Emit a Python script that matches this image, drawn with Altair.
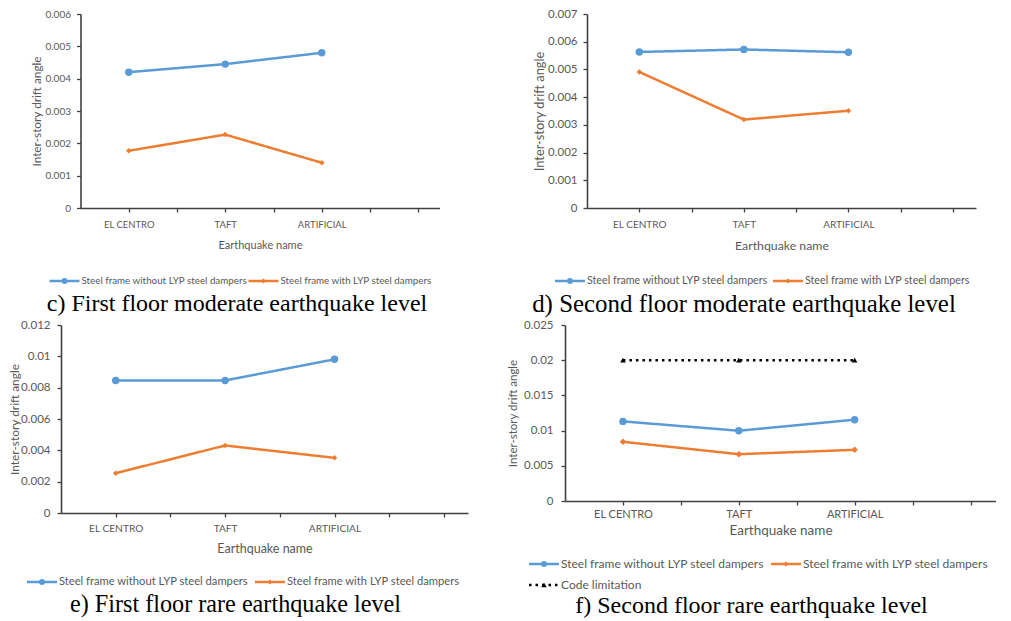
import altair as alt
import pandas as pd

# ---------------- data ----------------
categories = ["EL CENTRO", "TAFT", "ARTIFICIAL"]
S_WITHOUT = "Steel frame without LYP steel dampers"
S_WITH = "Steel frame with LYP steel dampers"
S_CODE = "Code limitation"

c_without = [0.00420, 0.00445, 0.00480]
c_with = [0.00177, 0.00227, 0.00140]
d_without = [0.00563, 0.00572, 0.00562]
d_with = [0.00491, 0.00319, 0.00351]
e_without = [0.00846, 0.00846, 0.00981]
e_with = [0.00254, 0.00431, 0.00352]
f_without = [0.01131, 0.00998, 0.01155]
f_with = [0.00841, 0.00665, 0.00727]
f_code = [0.020, 0.020, 0.020]

captions = [
    "c) First floor moderate earthquake level",
    "d) Second floor moderate earthquake level",
    "e) First floor rare earthquake level",
    "f) Second floor rare earthquake level",
]

# ---------------- styles ----------------
COLORS = {S_WITHOUT: "#5B9BD5", S_WITH: "#ED7D31", S_CODE: "#000000"}
SHAPES = {S_WITHOUT: "circle", S_WITH: "diamond", S_CODE: "triangle-up"}
SIZES = {S_WITHOUT: 55, S_WITH: 30, S_CODE: 40}
LSIZES = {S_WITHOUT: 36, S_WITH: 24, S_CODE: 30}
DASH = {S_WITHOUT: [1, 0], S_WITH: [1, 0], S_CODE: [2.5, 4]}

FONT = "Lato"
GRAY = "#595959"
AXC = "#404040"


def panel(series, ymax, ystep, W, H, caption, p):
    s = p["shift"]  # empty band left of the plot, used to offset this panel in the grid
    rows = []
    for name, vals in series.items():
        for i, v in enumerate(vals):
            rows.append({"series": name, "x": i, "v": v})
    df = pd.DataFrame(rows)
    domain = list(series.keys())
    nt = int(round(ymax / ystep))
    yvals = [round(i * ystep, 4) for i in range(nt + 1)]
    xvals = [i * 0.5 for i in range(7)]
    lab = "''"
    for i in reversed(range(len(categories))):
        lab = "datum.value === %d ? '%s' : (%s)" % (i, categories[i], lab)

    xaxis = alt.Axis(values=xvals, labelExpr=lab, title="Earthquake name", grid=False,
                     labelFont=FONT, labelFontSize=p["cat"], labelColor=GRAY,
                     titleFont=FONT, titleFontSize=p["xt"], titleColor=GRAY, titleFontWeight="normal",
                     labelPadding=p["xlp"], titlePadding=p["xtp"], tickSize=4,
                     domainColor=AXC, tickColor=AXC, domainWidth=1.6, tickWidth=1.3,
                     labelFlush=False, labelOverlap=False)
    yaxis = alt.Axis(values=yvals, format=".3~f", title="Inter-story drift angle", grid=False,
                     labelFont=FONT, labelFontSize=p["tick"], labelColor=GRAY,
                     titleFont=FONT, titleFontSize=p["yt"], titleColor=GRAY, titleFontWeight="normal",
                     labelPadding=p["ylp"], titlePadding=p["ytp"], tickSize=4,
                     domainColor=AXC, tickColor=AXC, domainWidth=1.6, tickWidth=1.3,
                     labelFlush=False, offset=-s)
    base = alt.Chart(df).encode(
        x=alt.X("x:Q", scale=alt.Scale(domain=[-0.5, 3.22], nice=False, zero=False, range=[s, W + s]),
                axis=xaxis),
        y=alt.Y("v:Q", scale=alt.Scale(domain=[0, ymax], nice=False), axis=yaxis),
    )
    line = base.mark_line(strokeWidth=2.5).encode(
        color=alt.Color("series:N", scale=alt.Scale(domain=domain, range=[COLORS[k] for k in domain]),
                        legend=None),
        strokeDash=alt.StrokeDash("series:N", scale=alt.Scale(domain=domain, range=[DASH[k] for k in domain]),
                                  legend=None),
    )
    pts = base.mark_point(filled=True, opacity=1, strokeWidth=0).encode(
        fill=alt.Fill("series:N", scale=alt.Scale(domain=domain, range=[COLORS[k] for k in domain]), legend=None),
        shape=alt.Shape("series:N", scale=alt.Scale(domain=domain, range=[SHAPES[k] for k in domain]), legend=None),
        size=alt.Size("series:N", scale=alt.Scale(domain=domain, range=[SIZES[k] for k in domain]), legend=None),
    )
    layers = [line, pts]

    # legend (line + marker + label), one entry per series
    for k, (lx, ly) in zip(domain, p["leg_pos"]):
        lx = lx + s
        one = alt.Chart(pd.DataFrame({"series": [k]}))
        layers.append(one.mark_rule(color=COLORS[k], strokeWidth=2.5, strokeDash=DASH[k]).encode(
            x=alt.value(lx), x2=alt.value(lx + 30), y=alt.value(ly)))
        layers.append(one.mark_point(filled=True, opacity=1, strokeWidth=0, color=COLORS[k],
                                     shape=SHAPES[k], size=LSIZES[k]).encode(
            x=alt.value(lx + 15), y=alt.value(ly)))
        layers.append(one.mark_text(align="left", baseline="middle", font=FONT, fontSize=p["leg"],
                                    color=GRAY).encode(
            x=alt.value(lx + 32), y=alt.value(ly), text="series:N"))

    return alt.layer(*layers).properties(
        width=W + s, height=H,
        title=alt.TitleParams(caption, orient="bottom", anchor="middle", frame="group",
                              font="Liberation Serif", fontSize=p["cap"], fontWeight="normal",
                              color="black", offset=p["toff"], dx=p["tdx"]),
    )


pc = dict(shift=19.5, cat=9.5, xt=11, tick=10, yt=11.8, leg=9.8, xlp=7, xtp=11, ylp=6, ytp=2,
          leg_pos=[(-31, 267), (168, 267)], toff=6, tdx=-13.25, cap=24)
pd_ = dict(shift=22, cat=10, xt=12.3, tick=11.5, yt=12.8, leg=10.7, xlp=7, xtp=10, ylp=6, ytp=1,
           leg_pos=[(-32, 267), (186, 267)], toff=6, tdx=-26.5, cap=24.9)
pe = dict(shift=0, cat=10.2, xt=12.5, tick=11.5, yt=11.9, leg=11.2, xlp=6, xtp=9, ylp=7, ytp=0,
          leg_pos=[(-34, 257), (194, 257)], toff=6, tdx=-29, cap=24.2)
pf = dict(shift=0, cat=11, xt=13.5, tick=11.5, yt=11.5, leg=12, xlp=3, xtp=4, ylp=8, ytp=5,
          leg_pos=[(-36, 239), (206, 239), (-36, 260)], toff=3, tdx=-29, cap=24)

ch_c = panel({S_WITHOUT: c_without, S_WITH: c_with}, 0.006, 0.001, 359, 194, captions[0], pc)
ch_d = panel({S_WITHOUT: d_without, S_WITH: d_with}, 0.007, 0.001, 389, 194, captions[1], pd_)
ch_e = panel({S_WITHOUT: e_without, S_WITH: e_with}, 0.012, 0.002, 407, 188, captions[2], pe)
ch_f = panel({S_WITHOUT: f_without, S_WITH: f_with, S_CODE: f_code}, 0.025, 0.005, 431, 176, captions[3], pf)

ind = dict(color="independent", fill="independent", shape="independent", size="independent",
           strokeDash="independent", x="independent", y="independent")
chart = alt.concat(ch_c, ch_d, ch_e, ch_f, columns=2, align="each",
                   spacing={"row": 2, "column": 39}).resolve_scale(**ind).properties(
    padding={"left": 0, "top": 0, "right": 0, "bottom": 0}, background="white"
).configure_view(stroke=None)

chart.save("out.html", embed_options={"renderer": "svg", "actions": False})
